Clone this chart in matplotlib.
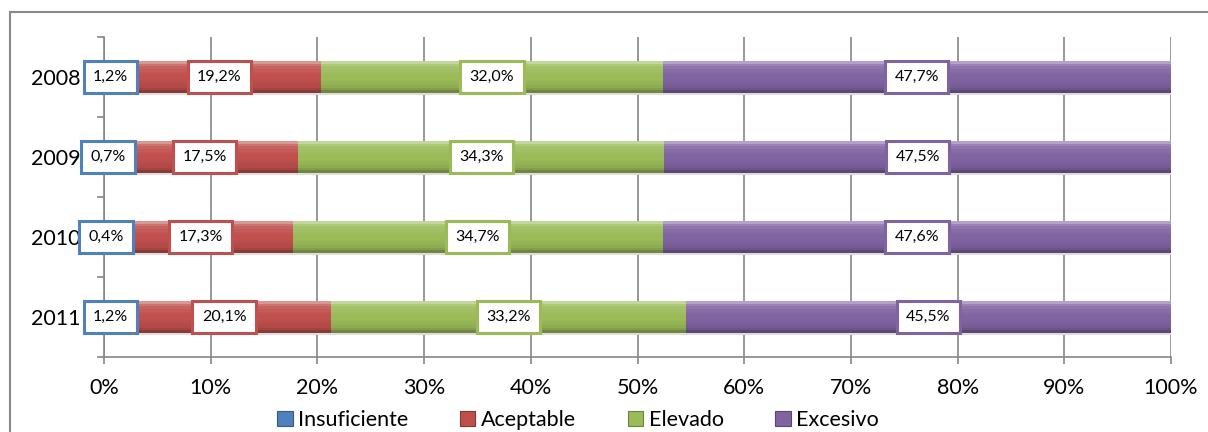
import numpy as np
import matplotlib.pyplot as plt
from matplotlib.patches import Patch, Rectangle
from matplotlib.colors import to_rgb

# datos (porcentaje por año)
years = ['2008', '2009', '2010', '2011']
insuficiente = [1.2, 0.7, 0.4, 1.2]
aceptable = [19.2, 17.5, 17.3, 20.1]
elevado = [32.0, 34.3, 34.7, 33.2]
excesivo = [47.7, 47.5, 47.6, 45.5]
series_names = ['Insuficiente', 'Aceptable', 'Elevado', 'Excesivo']
series_colors = ['#4F81BD', '#C0504D', '#9BBB59', '#8064A2']
x_ticks = list(range(0, 101, 10))

plt.rcParams['font.family'] = ['Lato', 'DejaVu Sans']


def shade(color, f):
    r = np.array(to_rgb(color))
    if f >= 1:
        return tuple(r + (1 - r) * (f - 1))
    return tuple(r * f)


# perfil vertical del "bisel" (de arriba hacia abajo)
profile = [1.4, 1.2, 1.1, 1.06, 1.03, 1.0, 1.0, 0.98, 0.95, 0.92, 0.85, 0.72]

W, H = 1208, 432
fig = plt.figure(figsize=(W / 100, H / 100), dpi=100)
ax = fig.add_axes([104 / W, 1 - 357 / H, (1171 - 104) / W, 320 / H])

data = np.array([insuficiente, aceptable, elevado, excesivo])  # series x años
totals = data.sum(axis=0)
ypos = np.arange(len(years))[::-1]
h = 0.4
n = len(profile)

lefts = np.zeros(len(years))
for s in range(len(series_names)):
    widths = data[s] / totals * 100
    col = series_colors[s]
    # sombra
    ax.barh(ypos - 0.03, widths, left=lefts + 0.3, height=h, color='#dedede', lw=0, zorder=1.5)
    for k, f in enumerate(profile):
        yc = ypos + h / 2 - (k + 0.5) * h / n
        ax.barh(yc, widths, left=lefts, height=h / n * 1.05, color=shade(col, f), lw=0,
                antialiased=False, zorder=2)
    for i in range(len(years)):
        txt = '{:.1f}%'.format(data[s][i]).replace('.', ',')
        ax.text(lefts[i] + widths[i] / 2, ypos[i], txt, ha='center', va='center',
                fontsize=11.5, color='black', zorder=6,
                bbox=dict(boxstyle='square,pad=0.58', fc='white', ec=col, lw=2.2))
    lefts = lefts + widths

ax.set_xlim(0, 100)
ax.set_ylim(-0.5, 3.5)
ax.set_xticks(x_ticks)
ax.set_xticklabels(['{}%'.format(t) for t in x_ticks])
ax.set_yticks(ypos)
ax.set_yticklabels(years)
ax.set_yticks(np.arange(-0.5, 3.6, 1.0), minor=True)
ax.set_axisbelow(True)
ax.xaxis.grid(True, color='#868686', lw=1.2, zorder=0)

for sp in ['top', 'right']:
    ax.spines[sp].set_visible(False)
for sp in ['left', 'bottom']:
    ax.spines[sp].set_color('#868686')
    ax.spines[sp].set_linewidth(1.2)

ax.tick_params(axis='x', direction='out', length=5, width=1.2, color='#868686',
               labelsize=15.5, pad=10)
ax.tick_params(axis='y', which='major', length=0, labelsize=15.5, pad=17)
ax.tick_params(axis='y', which='minor', direction='out', length=5, width=1.2, color='#868686')

handles = [Patch(facecolor=c, edgecolor=shade(c, 0.7), lw=0.8) for c in series_colors]
fig.legend(handles, series_names, loc='center', bbox_to_anchor=(578 / W, 1 - 420 / H),
           ncol=4, frameon=False, fontsize=15.5, handlelength=0.72, handleheight=0.72,
           handletextpad=0.25, columnspacing=2.4, borderpad=0)

# marco exterior del gráfico
fig.add_artist(Rectangle((9.5 / W, -0.1), 1.2, 1 - 11.5 / H + 0.1, transform=fig.transFigure,
                         fill=False, ec='#888888', lw=1.5, clip_on=False))

fig.savefig('out.png', dpi=100)
